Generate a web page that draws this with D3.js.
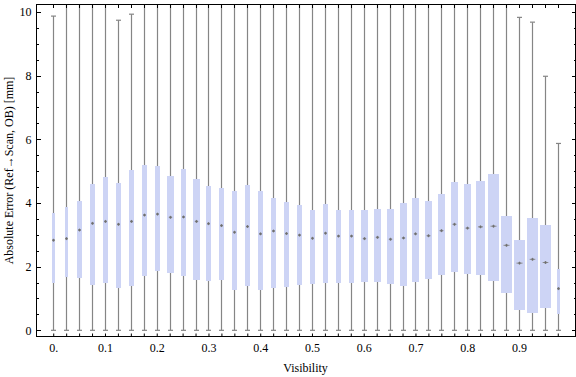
<!DOCTYPE html>
<html>
<head>
<meta charset="utf-8">
<script src="https://cdn.jsdelivr.net/npm/d3@7"></script>
<style>
  html, body { margin: 0; padding: 0; background: #fff; }
  text { font-family: "Liberation Serif", "Times New Roman", serif; }
</style>
</head>
<body>
<script>
// ---- data ----
const visibility = [0, 0.025, 0.05, 0.075, 0.1, 0.125, 0.15, 0.175, 0.2, 0.225,
  0.25, 0.275, 0.3, 0.325, 0.35, 0.375, 0.4, 0.425, 0.45, 0.475,
  0.5, 0.525, 0.55, 0.575, 0.6, 0.625, 0.65, 0.675, 0.7, 0.725,
  0.75, 0.775, 0.8, 0.825, 0.85, 0.875, 0.9, 0.925, 0.95, 0.975];
const q1 = [1.50, 1.68, 1.65, 1.43, 1.49, 1.34, 1.39, 1.72, 1.86, 1.80,
  1.71, 1.58, 1.56, 1.59, 1.28, 1.39, 1.28, 1.34, 1.37, 1.42,
  1.47, 1.50, 1.50, 1.50, 1.53, 1.53, 1.47, 1.40, 1.53, 1.62,
  1.75, 1.84, 1.78, 1.75, 1.56, 1.18, 0.65, 0.55, 0.71, 0.51];
const median = [2.83, 2.88, 3.15, 3.36, 3.42, 3.33, 3.42, 3.62, 3.65, 3.55,
  3.56, 3.42, 3.35, 3.29, 3.08, 3.26, 3.03, 3.12, 3.04, 2.99,
  2.89, 3.05, 2.96, 2.96, 2.88, 2.92, 2.86, 2.90, 3.03, 2.97,
  3.13, 3.33, 3.21, 3.25, 3.27, 2.67, 2.11, 2.23, 2.13, 1.31];
const q3 = [3.67, 3.88, 4.06, 4.60, 4.82, 4.63, 5.04, 5.20, 5.17, 4.85,
  5.07, 4.76, 4.54, 4.47, 4.38, 4.57, 4.38, 4.16, 4.03, 3.94,
  3.78, 3.97, 3.78, 3.78, 3.78, 3.81, 3.81, 4.00, 4.16, 4.07,
  4.29, 4.66, 4.60, 4.69, 4.92, 3.59, 2.84, 3.53, 3.31, 1.93];
const minVal = [0, 0, 0, 0, 0, 0, 0, 0, 0, 0,
  0, 0, 0, 0, 0, 0, 0, 0, 0, 0,
  0, 0, 0, 0, 0, 0, 0, 0, 0, 0,
  0, 0, 0, 0, 0, 0, 0, 0, 0, 0];
const maxVal = [9.87, 11, 11, 11, 11, 9.74, 9.93, 11, 11, 11,
  11, 11, 11, 11, 11, 11, 11, 11, 11, 11,
  11, 11, 11, 11, 11, 11, 11, 11, 11, 11,
  11, 11, 11, 11, 11, 11, 9.83, 9.68, 7.98, 5.87];
// relative box width (sample weight), 1 = widest box
const relWidth = [0.23, 0.36, 0.45, 0.45, 0.45, 0.45, 0.45, 0.45, 0.45, 0.55,
  0.45, 0.55, 0.45, 0.45, 0.45, 0.45, 0.45, 0.45, 0.45, 0.45,
  0.45, 0.45, 0.45, 0.45, 0.55, 0.55, 0.55, 0.55, 0.55, 0.64,
  0.64, 0.64, 0.64, 0.82, 1.0, 1.0, 1.0, 0.91, 0.91, 0.36];
const xTickValues = [0, 0.1, 0.2, 0.3, 0.4, 0.5, 0.6, 0.7, 0.8, 0.9];
const xTickLabels = ["0.", "0.1", "0.2", "0.3", "0.4", "0.5", "0.6", "0.7", "0.8", "0.9"];
const yTickValues = [0, 2, 4, 6, 8, 10];
const yMinorTicks = [0.5, 1, 1.5, 2.5, 3, 3.5, 4.5, 5, 5.5, 6.5, 7, 7.5, 8.5, 9, 9.5];
const xLabel = "Visibility";
const yLabel = "Absolute Error (Ref\u2192Scan, OB) [mm]";

// ---- layout ----
const W = 576, H = 377;
const L = 36, R = 575, T = 4, B = 337;
const svg = d3.select("body").append("svg").attr("width", W).attr("height", H);

const x = d3.scaleLinear().domain([-0.0333, 1.0083]).range([L, R]);
const y = d3.scaleLinear().domain([-0.21, 10.25]).range([B, T]);
const wScale = d3.scaleLinear().domain([0, 1]).range([0, 11]);

svg.append("defs").append("clipPath").attr("id", "clip")
  .append("rect").attr("x", L).attr("y", T).attr("width", R - L).attr("height", B - T);

const data = visibility.map((v, i) => ({
  v, q1: q1[i], med: median[i], q3: q3[i], lo: minVal[i], hi: maxVal[i], w: wScale(relWidth[i])
}));

const plot = svg.append("g").attr("clip-path", "url(#clip)");
const whiskerColor = "#858585";

// whiskers
plot.selectAll("line.wh").data(data).enter().append("line")
  .attr("x1", d => Math.round(x(d.v)) + 0.5).attr("x2", d => Math.round(x(d.v)) + 0.5)
  .attr("y1", d => y(d.lo)).attr("y2", d => y(d.hi))
  .attr("stroke", whiskerColor).attr("stroke-width", 1.2);
// lower caps
plot.selectAll("line.capl").data(data).enter().append("line")
  .attr("x1", d => Math.round(x(d.v)) + 0.5 - 2.5).attr("x2", d => Math.round(x(d.v)) + 0.5 + 2.5)
  .attr("y1", d => y(d.lo)).attr("y2", d => y(d.lo))
  .attr("stroke", whiskerColor).attr("stroke-width", 1.2);
// upper caps (only visible where inside frame)
plot.selectAll("line.capu").data(data.filter(d => d.hi < 10.25)).enter().append("line")
  .attr("x1", d => Math.round(x(d.v)) + 0.5 - 2.5).attr("x2", d => Math.round(x(d.v)) + 0.5 + 2.5)
  .attr("y1", d => y(d.hi)).attr("y2", d => y(d.hi))
  .attr("stroke", whiskerColor).attr("stroke-width", 1.2);

// boxes
plot.selectAll("rect.box").data(data).enter().append("rect")
  .attr("x", d => Math.round(x(d.v)) + 0.5 - d.w / 2)
  .attr("width", d => d.w)
  .attr("y", d => y(d.q3))
  .attr("height", d => y(d.q1) - y(d.q3))
  .attr("fill", "#cdd4f5")
  .attr("shape-rendering", "crispEdges");

// median markers
const mg = plot.selectAll("g.med").data(data).enter().append("g")
  .attr("transform", d => `translate(${Math.round(x(d.v)) + 0.5},${y(d.med)})`);
mg.append("line")
  .attr("x1", d => -Math.min(3, Math.max(1.5, d.w * 0.28)))
  .attr("x2", d => Math.min(3, Math.max(1.5, d.w * 0.28)))
  .attr("y1", 0).attr("y2", 0)
  .attr("stroke", "#8a8a8a").attr("stroke-width", 1);
mg.append("line")
  .attr("x1", 0).attr("x2", 0).attr("y1", -1.5).attr("y2", 1.5)
  .attr("stroke", "#8a8a8a").attr("stroke-width", 1);
mg.append("rect").attr("x", -1).attr("y", -1).attr("width", 2).attr("height", 2)
  .attr("fill", "#6e6e6e");

// ---- axes ----
function styleAxis(g) {
  g.select(".domain").remove();
  g.selectAll(".tick line").attr("stroke", "#000");
  g.selectAll("text").attr("fill", "#000").style("font-family", '"Liberation Serif", serif').style("font-size", "12px");
}
// left
svg.append("g").attr("transform", `translate(${L + 0.5},0)`)
  .call(d3.axisLeft(y).tickValues(yTickValues).tickSize(-4).tickPadding(5).tickFormat(d3.format("d")))
  .call(styleAxis);
svg.append("g").attr("transform", `translate(${L + 0.5},0)`)
  .call(d3.axisLeft(y).tickValues(yMinorTicks).tickSize(-2).tickFormat(""))
  .call(styleAxis);
// right
svg.append("g").attr("transform", `translate(${R + 0.5},0)`)
  .call(d3.axisRight(y).tickValues(yTickValues).tickSize(-4).tickFormat(""))
  .call(styleAxis);
svg.append("g").attr("transform", `translate(${R + 0.5},0)`)
  .call(d3.axisRight(y).tickValues(yMinorTicks).tickSize(-2).tickFormat(""))
  .call(styleAxis);
// top
svg.append("g").attr("transform", `translate(0,${T + 0.5})`)
  .call(d3.axisTop(x).tickValues(visibility).tickSize(-3).tickFormat(""))
  .call(styleAxis);
svg.selectAll("g.tick").attr("shape-rendering", "crispEdges");
// bottom
svg.append("g").attr("transform", `translate(0,${B - 0.5})`)
  .call(d3.axisBottom(x).tickValues(visibility).tickSize(-3).tickFormat(""))
  .call(styleAxis);
svg.append("g").attr("transform", `translate(0,${B - 0.5})`)
  .call(d3.axisBottom(x).tickValues(xTickValues).tickSize(0).tickPadding(7)
    .tickFormat((d, i) => xTickLabels[i]))
  .call(styleAxis);

// frame
svg.append("rect").attr("x", L + 0.5).attr("y", T + 0.5)
  .attr("width", R - L).attr("height", B - T - 1)
  .attr("fill", "none").attr("stroke", "#000").attr("stroke-width", 1)
  .attr("shape-rendering", "crispEdges");

// labels
svg.append("text").attr("x", (L + R) / 2).attr("y", 372)
  .attr("text-anchor", "middle").style("font-size", "12px").attr("fill", "#000")
  .text(xLabel);
svg.append("text").attr("transform", `translate(13,${(T + B) / 2}) rotate(-90)`)
  .attr("text-anchor", "middle").style("font-size", "12px").attr("fill", "#000")
  .text(yLabel);
</script>
</body>
</html>
